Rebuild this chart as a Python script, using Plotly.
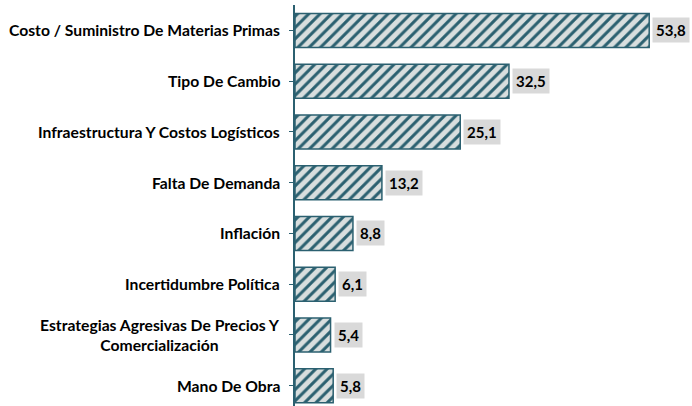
import plotly.graph_objects as go

categories = [
    "Costo / Suministro De Materias Primas",
    "Tipo De Cambio",
    "Infraestructura Y Costos Logísticos",
    "Falta De Demanda",
    "Inflación",
    "Incertidumbre Política",
    "Estrategias Agresivas De Precios Y<br>Comercialización",
    "Mano De Obra",
]
values = [53.8, 32.5, 25.1, 13.2, 8.8, 6.1, 5.4, 5.8]

FONT = "Lato"
DARK = "#2b6070"
LIGHT = "#d8dede"

fig = go.Figure()
fig.add_trace(go.Bar(
    x=values,
    y=list(range(len(categories))),
    orientation="h",
    marker=dict(
        color=LIGHT,
        line=dict(color=DARK, width=1.5),
        pattern=dict(shape="/", fgcolor=DARK, fgopacity=1, bgcolor=LIGHT, size=8, solidity=0.38),
    ),
    hoverinfo="skip",
))

annotations = []
for i, (c, v) in enumerate(zip(categories, values)):
    annotations.append(dict(
        x=v, y=i, xref="x", yref="y", text="<b>" + f"{v:.1f}".replace(".", ",") + "</b>",
        showarrow=False, xanchor="left", xshift=3,
        bgcolor="#d9d9d9", borderpad=3,
        font=dict(family=FONT, size=15, color="black"),
    ))
    annotations.append(dict(
        x=0, y=i, xref="paper", yref="y", text="<b>" + c + "</b>",
        showarrow=False, xanchor="right", align="center", xshift=-13,
        font=dict(family=FONT, size=15.7, color="black"),
    ))

fig.update_layout(
    width=692, height=406,
    margin=dict(l=295, r=0, t=5, b=0, autoexpand=False),
    paper_bgcolor="white", plot_bgcolor="white",
    showlegend=False,
    bargap=0.33,
    annotations=annotations,
    xaxis=dict(range=[0, 60.3], visible=False, fixedrange=True, automargin=False),
    yaxis=dict(
        range=[7.4, -0.5], tickmode="array", tickvals=list(range(len(categories))),
        ticktext=[""] * len(categories), tickson="boundaries",
        ticks="outside", ticklen=4, tickcolor=DARK,
        showline=True, linecolor=DARK, linewidth=1.5, showgrid=False, zeroline=False,
        fixedrange=True, automargin=False,
    ),
)

fig.write_html(
    "out.html",
    config={"displayModeBar": False},
    post_script="document.body.style.margin='0';document.body.style.overflow='hidden';",
)
